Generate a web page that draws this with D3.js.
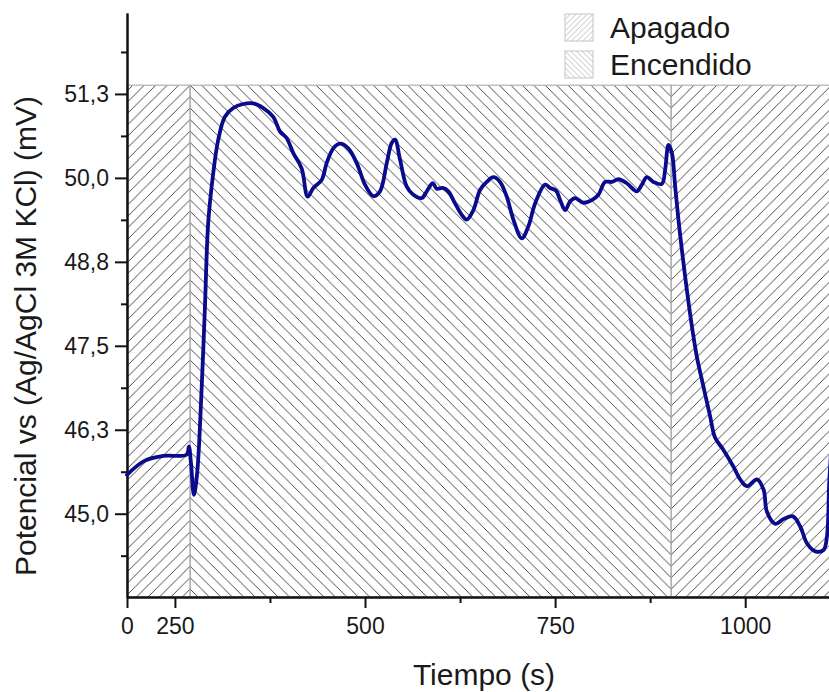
<!DOCTYPE html>
<html>
<head>
<meta charset="utf-8">
<script src="https://cdn.jsdelivr.net/npm/d3@7"></script>
<style>
  html, body { margin: 0; padding: 0; background: #ffffff; }
  svg { display: block; }
  text { font-family: "Liberation Sans", Arial, sans-serif; fill: #1a1a1a; }
</style>
</head>
<body>
<svg id="chart" width="829" height="692"></svg>
<script>
// ---- data ----
const time = [187, 210.5, 234.6, 265.4, 268.4, 271.1, 275, 279.3, 285.1, 289.5,
  293.8, 300.4, 307, 315.8, 326.7, 339.9, 353, 366.2, 379.3, 388.2,
  397, 405.7, 416.7, 424.6, 432, 443, 449.6, 458.3, 467.1, 478,
  489.1, 500, 510.9, 519.7, 528.6, 535.1, 539.5, 546.1, 554.9, 563.6,
  574.6, 581.2, 589.1, 594.3, 602.2, 609.6, 618.4, 627.2, 633.8, 642.5,
  651.3, 660.1, 668.8, 677.6, 686.4, 695.1, 706.2, 714.9, 723.7, 736.8,
  743.4, 751.3, 756.6, 763.2, 769.7, 776.3, 787.2, 798.3, 807, 815.8,
  824.6, 833.3, 844.3, 857.5, 864.1, 870.7, 879.3, 890.4, 894.7, 899.1,
  903.6, 907.9, 912.2, 916.7, 923.3, 929.9, 936.4, 945.1, 953.9, 960.5,
  971.4, 984.6, 993.4, 1002.2, 1015.4, 1024.1, 1028.6, 1039.5, 1050.4, 1062.8,
  1072.4, 1081.2, 1092.1, 1103, 1107.5, 1110.5, 1113];
const potential = [45.58, 45.79, 45.86, 45.88, 46.00, 45.76, 45.28, 45.61, 46.85, 48.08,
  49.33, 50.07, 50.57, 50.91, 51.04, 51.10, 51.11, 51.04, 50.91, 50.69,
  50.59, 50.37, 50.14, 49.72, 49.85, 49.97, 50.22, 50.44, 50.51, 50.44,
  50.22, 49.90, 49.73, 49.80, 50.22, 50.52, 50.57, 50.27, 49.87, 49.75,
  49.70, 49.80, 49.92, 49.84, 49.85, 49.80, 49.62, 49.45, 49.38, 49.52,
  49.82, 49.94, 50.01, 49.94, 49.72, 49.38, 49.10, 49.28, 49.62, 49.90,
  49.85, 49.81, 49.67, 49.52, 49.65, 49.70, 49.63, 49.67, 49.75, 49.94,
  49.94, 49.98, 49.92, 49.80, 49.90, 50.01, 49.94, 49.91, 50.12, 50.49,
  50.37, 49.87, 49.38, 48.93, 48.33, 47.79, 47.34, 46.89, 46.45, 46.13,
  45.95, 45.70, 45.51, 45.41, 45.51, 45.36, 45.03, 44.85, 44.92, 44.96,
  44.81, 44.56, 44.44, 44.46, 44.66, 45.46, 45.95];

const periodNames  = ["Apagado", "Encendido", "Apagado"];
const periodStarts = [187, 270, 902.6];
const periodEnds   = [270, 902.6, 1111];
const periodTop    = 51.38;

const legendNames = ["Apagado", "Encendido"];

const xTickValues = [187, 250, 500, 750, 1000];
const xTickLabels = ["0", "250", "500", "750", "1000"];
const xMinorTicks = [375, 625, 875];

const yTickValues = [45.0, 46.25, 47.5, 48.75, 50.0, 51.25];
const yTickLabels = ["45,0", "46,3", "47,5", "48,8", "50,0", "51,3"];
const yMinorTicks = [44.375, 45.625, 46.875, 48.125, 49.375, 50.625, 51.875];

const xDomain = [187, 1111];
const yDomain = [43.76, 52.455];

// ---- scales ----
const svg = d3.select("#chart");
const x = d3.scaleLinear().domain(xDomain).range([127, 829.6]);
const y = d3.scaleLinear().domain(yDomain).range([597, 13]);

// ---- hatch patterns ----
const x0 = x(periodStarts[1]);
const y0 = y(periodTop);
const s = (x(periodStarts[2]) - x(periodStarts[1])) / 42;
const defs = svg.append("defs");

function hatch(id, dir, size, color, width, px, py) {
  const p = defs.append("pattern")
    .attr("id", id)
    .attr("patternUnits", "userSpaceOnUse")
    .attr("x", px).attr("y", py)
    .attr("width", size).attr("height", size);
  const d = dir === "/"
    ? `M0,${size} L${size},0 M-1,1 L1,-1 M${size-1},${size+1} L${size+1},${size-1}`
    : `M0,0 L${size},${size} M-1,${size-1} L1,${size+1} M${size-1},-1 L${size+1},1`;
  p.append("path").attr("d", d)
    .attr("stroke", color).attr("stroke-width", width).attr("fill", "none");
}
hatch("hatch-off", "/", s, "#444444", 0.95, x0, y0);
hatch("hatch-on", "\\", s, "#444444", 0.95, x0, y0);
hatch("leg-off", "/", 5.6, "#b8b8b8", 0.9, 565, 14);
hatch("leg-on", "\\", 5.6, "#b8b8b8", 0.9, 565, 51);

// ---- shaded periods ----
const periods = periodNames.map((n, i) => ({ name: n, start: periodStarts[i], end: periodEnds[i] }));
svg.append("g").selectAll("rect").data(periods).join("rect")
  .attr("x", d => x(d.start))
  .attr("y", y(periodTop))
  .attr("width", d => x(d.end) - x(d.start))
  .attr("height", y(yDomain[0]) - y(periodTop))
  .attr("fill", d => d.name === "Apagado" ? "url(#hatch-off)" : "url(#hatch-on)")
  .attr("stroke", "#ababab")
  .attr("stroke-width", 1.1);

// ---- axes ----
const yAxis = d3.axisLeft(y).tickValues(yTickValues)
  .tickFormat((d, i) => yTickLabels[i]).tickSize(12).tickSizeOuter(0).tickPadding(6);
const gy = svg.append("g").attr("transform", `translate(${x(xDomain[0])},0)`).call(yAxis);
gy.selectAll("text").style("font-size", "23px");
const gyMinor = svg.append("g").attr("transform", `translate(${x(xDomain[0])},0)`)
  .call(d3.axisLeft(y).tickValues(yMinorTicks).tickFormat("").tickSize(6).tickSizeOuter(0));

const xAxis = d3.axisBottom(x).tickValues(xTickValues)
  .tickFormat((d, i) => xTickLabels[i]).tickSize(11).tickSizeOuter(0).tickPadding(10);
const gx = svg.append("g").attr("transform", `translate(0,${y(yDomain[0])})`).call(xAxis);
gx.selectAll("text").style("font-size", "23px");
const gxMinor = svg.append("g").attr("transform", `translate(0,${y(yDomain[0])})`)
  .call(d3.axisBottom(x).tickValues(xMinorTicks).tickFormat("").tickSize(6).tickSizeOuter(0));

[gy, gyMinor, gx, gxMinor].forEach(g => {
  g.select(".domain").attr("stroke", "#111").attr("stroke-width", 2);
  g.selectAll(".tick line").attr("stroke", "#111").attr("stroke-width", 2);
});

// ---- line ----
const pts = time.map((t, i) => [t, potential[i]]);
const line = d3.line().x(d => x(d[0])).y(d => y(d[1])).curve(d3.curveCatmullRom.alpha(0.5));
svg.append("path").datum(pts)
  .attr("d", line)
  .attr("fill", "none")
  .attr("stroke", "#0a0a8c")
  .attr("stroke-width", 3.8)
  .attr("stroke-linejoin", "round")
  .attr("stroke-linecap", "round");

// ---- titles ----
svg.append("text")
  .attr("x", 484).attr("y", 685)
  .attr("text-anchor", "middle")
  .style("font-size", "30px")
  .text("Tiempo (s)");
svg.append("text")
  .attr("transform", "translate(36,336) rotate(-90)")
  .attr("text-anchor", "middle")
  .style("font-size", "30px")
  .text("Potencial vs (Ag/AgCl 3M KCl) (mV)");

// ---- legend ----
const leg = svg.append("g");
legendNames.forEach((n, i) => {
  const top = 14 + i * 37;
  leg.append("rect")
    .attr("x", 565).attr("y", top).attr("width", 28).attr("height", 27)
    .attr("fill", n === "Apagado" ? "url(#leg-off)" : "url(#leg-on)")
    .attr("stroke", "#c4c4c4").attr("stroke-width", 1);
  leg.append("text")
    .attr("x", 610).attr("y", top + 24)
    .style("font-size", "30px")
    .text(n);
});
</script>
</body>
</html>
